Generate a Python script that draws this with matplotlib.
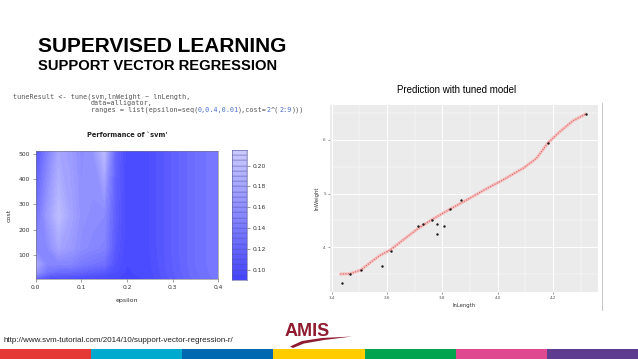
#!/usr/bin/env python3
"""Slide: supervised learning - support vector regression (tune plot + prediction)"""

import numpy as np
import matplotlib
matplotlib.use("Agg")
import matplotlib.pyplot as plt
from matplotlib.colors import hsv_to_rgb
from matplotlib.patches import Rectangle, Polygon

W, H = 638, 359

# --- tune() performance grid
eps_grid = [0.0, 0.025, 0.05, 0.075, 0.1, 0.125, 0.15, 0.175, 0.2, 0.25, 0.3, 0.35, 0.4]
cost_grid = [4, 8, 16, 32, 64, 128, 256, 512]
perf = [
    [0.110, 0.100, 0.095, 0.095, 0.095, 0.095, 0.094, 0.093, 0.092, 0.095, 0.110, 0.125, 0.135],
    [0.120, 0.105, 0.100, 0.100, 0.098, 0.097, 0.095, 0.094, 0.092, 0.096, 0.112, 0.127, 0.137],
    [0.140, 0.115, 0.110, 0.108, 0.105, 0.102, 0.100, 0.096, 0.093, 0.097, 0.113, 0.128, 0.138],
    [0.165, 0.135, 0.125, 0.125, 0.120, 0.115, 0.110, 0.100, 0.094, 0.098, 0.114, 0.129, 0.139],
    [0.185, 0.150, 0.150, 0.150, 0.140, 0.135, 0.130, 0.105, 0.095, 0.099, 0.115, 0.130, 0.140],
    [0.150, 0.155, 0.180, 0.170, 0.158, 0.152, 0.148, 0.110, 0.096, 0.100, 0.116, 0.130, 0.140],
    [0.130, 0.170, 0.200, 0.180, 0.162, 0.158, 0.155, 0.115, 0.096, 0.100, 0.116, 0.130, 0.140],
    [0.105, 0.145, 0.180, 0.172, 0.158, 0.165, 0.198, 0.120, 0.096, 0.100, 0.116, 0.130, 0.140],
]
perf_levels = np.arange(0.09, 0.2151, 0.005)
cb_ticks = [0.10, 0.12, 0.14, 0.16, 0.18, 0.20]

# --- observed fish data and tuned model prediction
ln_length = [3.436, 3.466, 3.505, 3.583, 3.613, 3.711, 3.731, 3.761, 3.780, 3.780,
             3.807, 3.828, 3.869, 4.181, 4.319]
ln_weight = [3.333, 3.512, 3.580, 3.648, 3.938, 4.389, 4.432, 4.512, 4.438, 4.253,
             4.389, 4.716, 4.883, 5.932, 6.481]
pred_x = [3.432, 3.466, 3.505, 3.545, 3.575, 3.613, 3.659, 3.711, 3.761, 3.828,
          3.888, 3.960, 4.020, 4.069, 4.093, 4.141, 4.181, 4.225, 4.273, 4.319]
pred_y = [3.506, 3.512, 3.580, 3.741, 3.852, 3.957, 4.142, 4.346, 4.512, 4.710,
          4.880, 5.090, 5.253, 5.400, 5.470, 5.655, 5.933, 6.148, 6.351, 6.475]

stripe_colors = ["#E53935", "#00A9CE", "#0067B1", "#FFCC00", "#00A44F", "#DE4990", "#5E3C8F"]

SANS = ["Liberation Sans", "DejaVu Sans"]


def fx(x):
    return x / W


def fy(y):
    return 1 - y / H


def perf_color(v):
    # R hsv_palette: blue hue, saturation falls as error rises
    t = (v - perf_levels[0]) / (perf_levels[-1] - perf_levels[0])
    s = 0.74 - 0.54 * t
    return hsv_to_rgb((2 / 3, s, 1.0))


fig = plt.figure(figsize=(W / 100, H / 100), dpi=100)
fig.patch.set_facecolor("white")

# --- titles
fig.text(fx(38), fy(51.5), "SUPERVISED LEARNING", family=SANS, weight="bold",
         fontsize=15, va="baseline", ha="left")
fig.text(fx(38), fy(69.5), "SUPPORT VECTOR REGRESSION", family=SANS, weight="bold",
         fontsize=10.6, va="baseline", ha="left")

# --- R code snippet (monospace, numbers in blue)
code_fs = 4.9
char_px = 0.602 * code_fs * 100 / 72
code_grey = "#555555"
code_blue = "#4A6FD0"
code_lines = [
    (13, 97.0, [("tuneResult <- tune(svm,lnWeight ~ lnLength,", code_grey)]),
    (13 + 19 * char_px, 103.5, [("data=alligator,", code_grey)]),
    (13 + 19 * char_px, 110.0, [("ranges = list(epsilon=seq(", code_grey), ("0,0.4,0.01", code_blue),
                                ("),cost=", code_grey), ("2", code_blue), ("^(", code_grey),
                                ("2:9", code_blue), (")))", code_grey)]),
]
for x0, y0, parts in code_lines:
    n = 0
    for txt, col in parts:
        fig.text(fx(x0 + n * char_px), fy(y0), txt, family="DejaVu Sans Mono",
                 fontsize=code_fs, color=col, va="center", ha="left")
        n += len(txt)

# --- tune performance filled contour
ax1 = fig.add_axes([fx(35.7), fy(279.3), 182.6 / W, 128.6 / H])
cols = [perf_color(0.5 * (a + b)) for a, b in zip(perf_levels[:-1], perf_levels[1:])]
ax1.contourf(eps_grid, cost_grid, np.array(perf), levels=perf_levels, colors=cols, extend="both")
ax1.set_xlim(0, 0.4)
ax1.set_ylim(4, 512)
ax1.set_xticks([0.0, 0.1, 0.2, 0.3, 0.4])
ax1.set_xticklabels(["0.0", "0.1", "0.2", "0.3", "0.4"])
ax1.set_yticks([100, 200, 300, 400, 500])
ax1.tick_params(labelsize=4.3, length=2, width=0.4, pad=2, color="#555555", labelcolor="#333333")
for sp in ax1.spines.values():
    sp.set_linewidth(0.4)
    sp.set_color("#777777")
ax1.set_xlabel("epsilon", fontsize=4.5, color="#333333", labelpad=6)
ax1.set_ylabel("cost", fontsize=4.5, color="#333333", labelpad=5)
ax1.set_title("Performance of `svm'", fontsize=4.8, weight="bold", pad=10, color="#222222")

# colour key
axc = fig.add_axes([fx(232.3), fy(280), 14.4 / W, 130 / H])
for a, b, c in zip(perf_levels[:-1], perf_levels[1:], cols):
    axc.add_patch(Rectangle((0, a), 1, b - a, facecolor=c, edgecolor="#5050A0", lw=0.25))
axc.set_xlim(0, 1)
axc.set_ylim(perf_levels[0], perf_levels[-1])
axc.set_xticks([])
axc.yaxis.tick_right()
axc.set_yticks(cb_ticks)
axc.set_yticklabels(["%.2f" % t for t in cb_ticks])
axc.tick_params(labelsize=4.3, length=2, width=0.4, pad=2, color="#555555", labelcolor="#333333")
for sp in axc.spines.values():
    sp.set_linewidth(0.4)
    sp.set_color("#6060A0")

# --- prediction plot (ggplot look)
fig.text(fx(457), fy(90), "Prediction with tuned model", family=SANS, fontsize=7,
         ha="center", va="center")
ax2 = fig.add_axes([fx(330), fy(292), 268 / W, 187 / H])
ax2.set_facecolor("#EBEBEB")
ax2.set_xlim(3.394, 4.363)
ax2.set_ylim(3.173, 6.642)
ax2.set_xticks([3.4, 3.6, 3.8, 4.0, 4.2])
ax2.set_xticklabels(["3.4", "3.6", "3.8", "4.0", "4.2"])
ax2.set_yticks([4, 5, 6])
ax2.set_xticks([3.5, 3.7, 3.9, 4.1, 4.3], minor=True)
ax2.set_yticks([3.5, 4.5, 5.5, 6.5], minor=True)
ax2.grid(True, which="major", color="white", lw=0.7)
ax2.grid(True, which="minor", color="white", lw=0.35)
ax2.set_axisbelow(True)
for sp in ax2.spines.values():
    sp.set_visible(False)
ax2.tick_params(which="major", labelsize=3, length=1.5, width=0.4, pad=1.5,
                color="#555555", labelcolor="#555555")
ax2.tick_params(which="minor", length=0)
ax2.set_xlabel("lnLength", fontsize=3.8, color="#333333", labelpad=2)
ax2.set_ylabel("lnWeight", fontsize=3.8, color="#333333", labelpad=3)
ax2.plot(pred_x, pred_y, color="#F5C0C0", lw=2.2, solid_capstyle="round", zorder=2)
ax2.plot(pred_x, pred_y, color="#E06868", lw=0.9, ls=(0, (0.8, 1.2)), zorder=3)
ax2.scatter(ln_length, ln_weight, s=3, color="#1A1A1A", zorder=4, linewidths=0)

# screenshot border line
fig.add_artist(plt.Line2D([fx(601.5), fx(601.5)], [fy(103), fy(310)], color="#BBBBBB", lw=0.6))

# --- footer: source url, logo, colour stripe
fig.text(fx(3), fy(341), "http://www.svm-tutorial.com/2014/10/support-vector-regression-r/",
         family=SANS, fontsize=5.8, color="#222222", ha="left", va="center")
logo_red = "#8E1B30"
fig.text(fx(285), fy(335.5), "AMIS", family=SANS, weight="bold", fontsize=13,
         color=logo_red, ha="left", va="baseline")
swoosh = Polygon([(fx(290), fy(346.5)), (fx(302), fy(341)), (fx(322), fy(338)),
                  (fx(352), fy(336.5)), (fx(324), fy(340)), (fx(304), fy(343.5)),
                  (fx(293), fy(348))], closed=True, transform=fig.transFigure,
                 facecolor=logo_red, edgecolor="none")
fig.add_artist(swoosh)

seg = W / len(stripe_colors)
for i, c in enumerate(stripe_colors):
    fig.add_artist(Rectangle((fx(i * seg), 0), seg / W, 10 / H, transform=fig.transFigure,
                             facecolor=c, edgecolor="none"))

fig.savefig("out.png", dpi=100)
